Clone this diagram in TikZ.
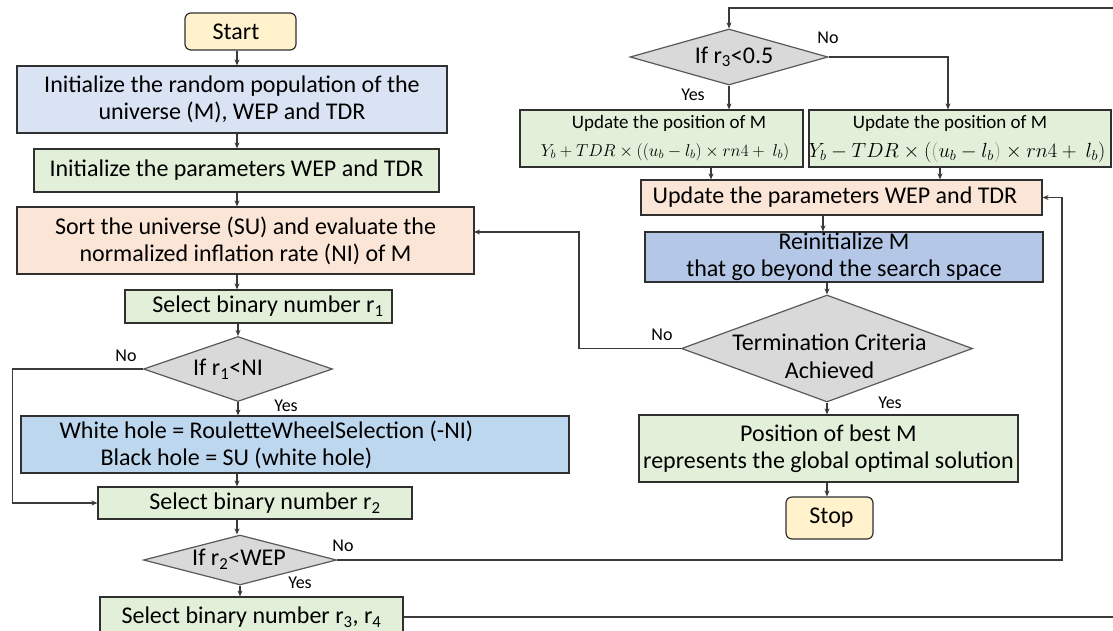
\documentclass[tikz,border=0pt]{standalone}
\usepackage{fix-cm}
\usepackage{fontspec}
\setmainfont{Carlito}
\usetikzlibrary{shapes.geometric,arrows.meta}
\definecolor{boxline}{HTML}{303030}
\definecolor{conline}{HTML}{3A3A3A}
\definecolor{termfill}{HTML}{FFF2CC}
\definecolor{bluefill}{HTML}{DAE3F3}
\definecolor{greenfill}{HTML}{E2F0D9}
\definecolor{orangefill}{HTML}{FBE5D6}
\definecolor{holefill}{HTML}{BDD7EE}
\definecolor{reinitfill}{HTML}{B4C7E7}
\definecolor{decfill}{HTML}{D9D9D9}
\definecolor{decline}{HTML}{595959}
\definecolor{paren}{HTML}{A0857A}
\begin{document}
\begin{tikzpicture}[x=1pt,y=-1pt,
 box/.style={draw=boxline,line width=1.2pt,inner sep=0pt,align=center,font=\fontsize{24}{27}\selectfont},
 term/.style={box,rounded corners=6pt,fill=termfill},
 dec/.style={diamond,draw=decline,line width=1.2pt,fill=decfill,inner sep=0pt},
 dectext/.style={font=\fontsize{24}{28}\selectfont,align=center,inner sep=0pt},
 lbl/.style={font=\fontsize{18}{20}\selectfont,inner sep=0pt},
 conn/.style={draw=conline,line width=1.1pt},
 arr/.style={conn,-{Stealth[length=6pt,width=5pt]}},
]
\useasboundingbox[fill=white] (0,0) rectangle (1113,630);

% ---------- left column ----------
\node[term,minimum width=111,minimum height=37] (start) at (240.5,31.5) {Start\hspace*{9pt}};
\node[box,fill=bluefill,minimum width=430,minimum height=67] (init) at (232,99.5)
  {Initialize the random population of the\\universe (M), WEP and TDR};
\node[box,fill=greenfill,minimum width=405,minimum height=43] (params) at (236.5,170.5)
  {Initialize the parameters WEP and TDR};
\node[box,fill=orangefill,minimum width=457,minimum height=67] (sort) at (245.5,240.5)
  {Sort the universe (SU) and evaluate the\\normalized inflation rate (NI) of M};
\node[box,fill=greenfill,minimum width=267,minimum height=33] (sel1) at (258.5,306.5)
  {\hspace*{19pt}Select binary number r\textsubscript{1}};
\node[dec,minimum width=189,minimum height=65] (d1) at (238,369) {};
\node[dectext] (d1t) at (228,369) {If r\textsubscript{1}<NI};
\node[box,fill=holefill,minimum width=548,minimum height=57] (hole) at (295,444.5) {};
\node[box,draw=none,anchor=west,align=left] (holet) at (59,444.5)
  {White hole = RouletteWheelSelection (-NI)\\\hspace*{41pt}Black hole = SU (white hole)};
\node[box,fill=greenfill,minimum width=314,minimum height=32] (sel2) at (255,503)
  {\hspace*{20pt}Select binary number r\textsubscript{2}};
\node[dec,minimum width=193,minimum height=50] (d2) at (240,560) {};
\node[dectext] (d2t) at (239,559) {If r\textsubscript{2}<WEP};
\node[box,fill=greenfill,minimum width=303,minimum height=40] (sel34) at (251.5,617)
  {Select binary number r\textsubscript{3}, r\textsubscript{4}};

% ---------- right column ----------
\node[dec,minimum width=198,minimum height=56] (d3) at (729,57) {};
\node[dectext] (d3t) at (734,57) {If r\textsubscript{3}<0.5};
\node[box,fill=greenfill,minimum width=283,minimum height=57] (upL) at (661.5,138.5) {};
\node[box,draw=none,font=\fontsize{19}{22}\selectfont] (upLt) at (669,123) {Update the position of M};
\node[box,draw=none,font=\fontsize{17.2}{20}\selectfont] (upLf) at (665,152)
  {$Y_b + TDR\times\left((u_b-l_b)\times rn4+\ l_b\right)$};
\node[box,fill=greenfill,minimum width=302,minimum height=57] (upR) at (960,138.5) {};
\node[box,draw=none,font=\fontsize{19}{22}\selectfont] (upRt) at (950,123) {Update the position of M};
\node[box,draw=none,font=\fontsize{20.5}{24}\selectfont] (upRf) at (957,152)
  {$Y_b - TDR\times\bigl(\textcolor{paren}{(}u_b-l_b\textcolor{paren}{)}\times rn4+\ l_b\bigr)$};
\node[box,fill=orangefill,minimum width=401,minimum height=35] (upP) at (841.5,197.5)
  {Update the parameters WEP and TDR\hspace*{13pt}};
\node[box,fill=reinitfill,minimum width=398,minimum height=50] (reinit) at (844,257)
  {Reinitialize M\\that go beyond the search space};
\node[dec,minimum width=291,minimum height=107] (d4) at (827,348.5) {};
\node[dectext] (d4t) at (829.5,356) {Termination Criteria\\Achieved};
\node[box,fill=greenfill,minimum width=379,minimum height=67] (pos) at (828.5,448.5)
  {Position of best M\\represents the global optimal solution};
\node[term,minimum width=87,minimum height=42] (stop) at (829.5,518) {\hspace*{4pt}Stop};

% ---------- helper coordinates ----------
\coordinate (Ls) at (237,0);
\coordinate (lf) at (12.5,0);
\coordinate (rv) at (1062,0);
\coordinate (lv) at (579,0);
\coordinate (sortin) at (474,232);
\coordinate (farR) at (1124,0);
\coordinate (topY) at (0,8);
\coordinate (rn) at (948,0);
\coordinate (a1) at (711,0);
\coordinate (a2) at (940,0);
\coordinate (Rs) at (823,0);

% ---------- left connectors ----------
\draw[arr] (start.south -| Ls) -- (init.north -| Ls);
\draw[arr] (init.south -| Ls) -- (params.north -| Ls);
\draw[arr] (params.south -| Ls) -- (sort.north -| Ls);
\draw[arr] (sort.south -| Ls) -- (sel1.north -| Ls);
\draw[arr] (sel1.south -| d1.north) -- (d1.north);
\draw[arr] (d1.south) -- (hole.north -| d1.south);
\draw[arr] (hole.south -| Ls) -- (sel2.north -| Ls);
\draw[arr] (sel2.south -| Ls) -- (d2.north -| Ls);
\draw[arr] (d2.south) -- (sel34.north -| d2.south);
\draw[arr] (d1.west) -- (d1.west -| lf) -- (lf |- sel2.west) -- (sel2.west);
\node[lbl] (n1) at (126,356) {No};
\node[lbl] (y1) at (286,406) {Yes};
\node[lbl] (n2) at (343,546) {No};
\node[lbl] (y2) at (300,583) {Yes};

% ---------- long connectors ----------
\draw[arr] (d2.east) -- (d2.east -| rv) -- (rv |- upP.east) -- (upP.east);
\draw[arr] (sel34.east) -- (sel34.east -| farR) -- (farR |- topY) -- (d3.north |- topY) -- (d3.north);
\draw[arr] (d4.west) -- (d4.west -| lv) -- (lv |- sortin) -- (sortin);

% ---------- right connectors ----------
\draw[arr] (d3.south) -- (upL.north -| d3.south);
\draw[arr] (d3.east) -- (d3.east -| rn) -- (upR.north -| rn);
\draw[arr] (upL.south -| a1) -- (upP.north -| a1);
\draw[arr] (upR.south -| a2) -- (upP.north -| a2);
\draw[arr] (upP.south -| Rs) -- (reinit.north -| Rs);
\draw[arr] (reinit.south -| d4.north) -- (d4.north);
\draw[arr] (d4.south) -- (pos.north -| d4.south);
\draw[arr] (pos.south -| d4.south) -- (stop.north -| d4.south);
\node[lbl] (n3) at (828,38) {No};
\node[lbl] (y3) at (693,95) {Yes};
\node[lbl] (n4) at (662,335) {No};
\node[lbl] (y4) at (890,403) {Yes};
\end{tikzpicture}
\end{document}
